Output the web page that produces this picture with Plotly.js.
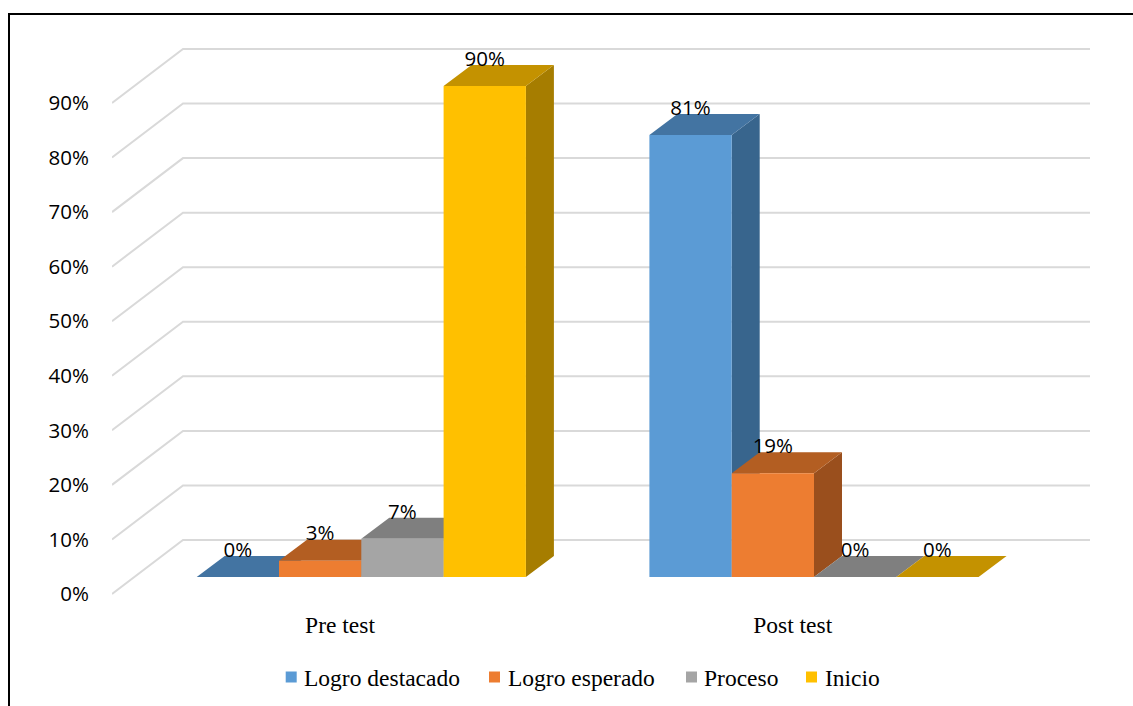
<!DOCTYPE html>
<html>
<head>
<meta charset="utf-8">
<script src="https://cdn.plot.ly/plotly-3.0.1.min.js"></script>
<style>
  html, body { margin: 0; padding: 0; background: #fff; }
  #wrap { position: relative; width: 1133px; height: 706px; overflow: hidden; }
  #chart { position: absolute; left: 0; top: 0; width: 1133px; height: 706px; }
  #frame { position: absolute; left: 8px; top: 13px; width: 1200px; height: 800px;
           border-left: 2px solid #000; border-top: 2px solid #000; pointer-events: none; }
</style>
</head>
<body>
<div id="wrap"><div id="chart"></div><div id="frame"></div></div>
<script>
// ---------------- data ----------------
const categories = ['Pre test', 'Post test'];
const seriesNames = ['Logro destacado', 'Logro esperado', 'Proceso', 'Inicio'];
const logroDestacado = [0, 81];
const logroEsperado = [3, 19];
const proceso = [7, 0];
const inicio = [90, 0];
const yTicks = [0, 10, 20, 30, 40, 50, 60, 70, 80, 90];
const seriesValues = [logroDestacado, logroEsperado, proceso, inicio];

// ---------------- styles ----------------
const frontColors = ['#5B9BD5', '#ED7D31', '#A5A5A5', '#FFC000'];
const topColors   = ['#4374A2', '#B35E22', '#7F7F7F', '#C49200'];
const sideColors  = ['#38658D', '#9A4F1D', '#6E6E6E', '#A67D00'];
const serifFont = '"Liberation Serif", "Times New Roman", "DejaVu Serif", serif';
const sansFont = '"Open Sans", sans-serif';

// ---------------- geometry (pixel scale -> axis units) ----------------
const W = 1133, H = 706;
const M = { l: 112, r: 23, t: 30, b: 106 };
const plotW = W - M.l - M.r, plotH = H - M.t - M.b;
const PXX = 452.7;          // px per category unit
const K = 5.456;            // px per percent
const xZeroPx = 340;        // front-plane px of first category
const yZeroPx = 594;        // front-plane px of 0%
const xMin = (M.l - xZeroPx) / PXX;
const xMax = xMin + plotW / PXX;
const yMin = (yZeroPx - (H - M.b)) / K;
const yMax = (yZeroPx - M.t) / K;

const depth = { dx: 71 / PXX, dy: 54 / K };      // full floor/wall depth
const plane = { dx: 21.3 / PXX, dy: 17 / K };    // bars' front plane
const bar = { w: 82.3 / PXX, dx: 28 / PXX, dy: 21 / K };
const wallRight = (1090 - xZeroPx) / PXX;
const labelLift = 4.4 / K;

const traces = [];

// gridlines (floor diagonal + back wall)
const gx = [], gy = [];
yTicks.forEach(v => {
  gx.push(xMin, xMin + depth.dx, wallRight, null);
  gy.push(v, v + depth.dy, v + depth.dy, null);
});
traces.push({ type: 'scatter', mode: 'lines', x: gx, y: gy,
  line: { color: '#D9D9D9', width: 2 }, hoverinfo: 'skip', showlegend: false });

// bars
const lx = [], ly = [], lt = [];
seriesValues.forEach((vals, i) => {
  const F = { x: [], y: [] }, T = { x: [], y: [] }, S = { x: [], y: [] };
  vals.forEach((v, j) => {
    const x0 = j + (i - 2) * bar.w + plane.dx;
    const x1 = x0 + bar.w;
    const y0 = plane.dy, y1 = plane.dy + v;
    S.x.push(x1, x1 + bar.dx, x1 + bar.dx, x1, x1, null);
    S.y.push(y0, y0 + bar.dy, y1 + bar.dy, y1, y0, null);
    T.x.push(x0, x1, x1 + bar.dx, x0 + bar.dx, x0, null);
    T.y.push(y1, y1, y1 + bar.dy, y1 + bar.dy, y1, null);
    F.x.push(x0, x1, x1, x0, x0, null);
    F.y.push(y0, y0, y1, y1, y0, null);
    lx.push(x0 + bar.w / 2);
    ly.push(y1 + bar.dy + labelLift);
    lt.push(v + '%');
  });
  [[S, sideColors[i]], [T, topColors[i]], [F, frontColors[i]]].forEach(([p, c]) => {
    traces.push({ type: 'scatter', mode: 'lines', x: p.x, y: p.y, fill: 'toself',
      fillcolor: c, line: { width: 0, color: c }, hoverinfo: 'skip',
      showlegend: false, name: seriesNames[i] });
  });
});

// data labels
traces.push({ type: 'scatter', mode: 'text', x: lx, y: ly, text: lt,
  textposition: 'middle center',
  textfont: { family: sansFont, size: 20.5, color: '#000' },
  hoverinfo: 'skip', showlegend: false });

// custom legend (square + text), positioned in pixels
const legendSquareX = [285.7, 489, 686, 806];
const legendTextX = [302, 506, 702, 823];
const legendY = 677;
const toPaperX = px => (px - M.l) / plotW;
const toPaperY = py => (H - M.b - py) / plotH;
const shapes = [], annotations = [];
seriesNames.forEach((n, i) => {
  shapes.push({ type: 'rect', xref: 'paper', yref: 'paper',
    x0: toPaperX(legendSquareX[i]), x1: toPaperX(legendSquareX[i] + 11),
    y0: toPaperY(legendY - 5.5), y1: toPaperY(legendY + 5.5),
    fillcolor: frontColors[i], line: { width: 0 } });
  annotations.push({ xref: 'paper', yref: 'paper', x: toPaperX(legendTextX[i]),
    y: toPaperY(legendY + 1), xanchor: 'left', yanchor: 'middle', showarrow: false,
    text: n, font: { family: serifFont, size: 23.5, color: '#000' } });
});

const layout = {
  width: W, height: H, margin: M,
  paper_bgcolor: '#fff', plot_bgcolor: '#fff',
  showlegend: false,
  xaxis: { range: [xMin, xMax], tickvals: [0, 1], ticktext: categories,
    showgrid: false, zeroline: false, showline: false,
    ticks: 'outside', ticklen: 4, tickcolor: 'rgba(0,0,0,0)',
    tickfont: { family: serifFont, size: 23.5, color: '#000' },
    fixedrange: true },
  yaxis: { range: [yMin, yMax], tickvals: yTicks, ticktext: yTicks.map(v => v + '%'),
    showgrid: false, zeroline: false, showline: false,
    ticks: 'outside', ticklen: 18, tickcolor: 'rgba(0,0,0,0)',
    tickfont: { family: sansFont, size: 20.5, color: '#000' },
    fixedrange: true },
  shapes: shapes, annotations: annotations
};

Plotly.newPlot('chart', traces, layout, { staticPlot: true, displayModeBar: false });
</script>
</body>
</html>
